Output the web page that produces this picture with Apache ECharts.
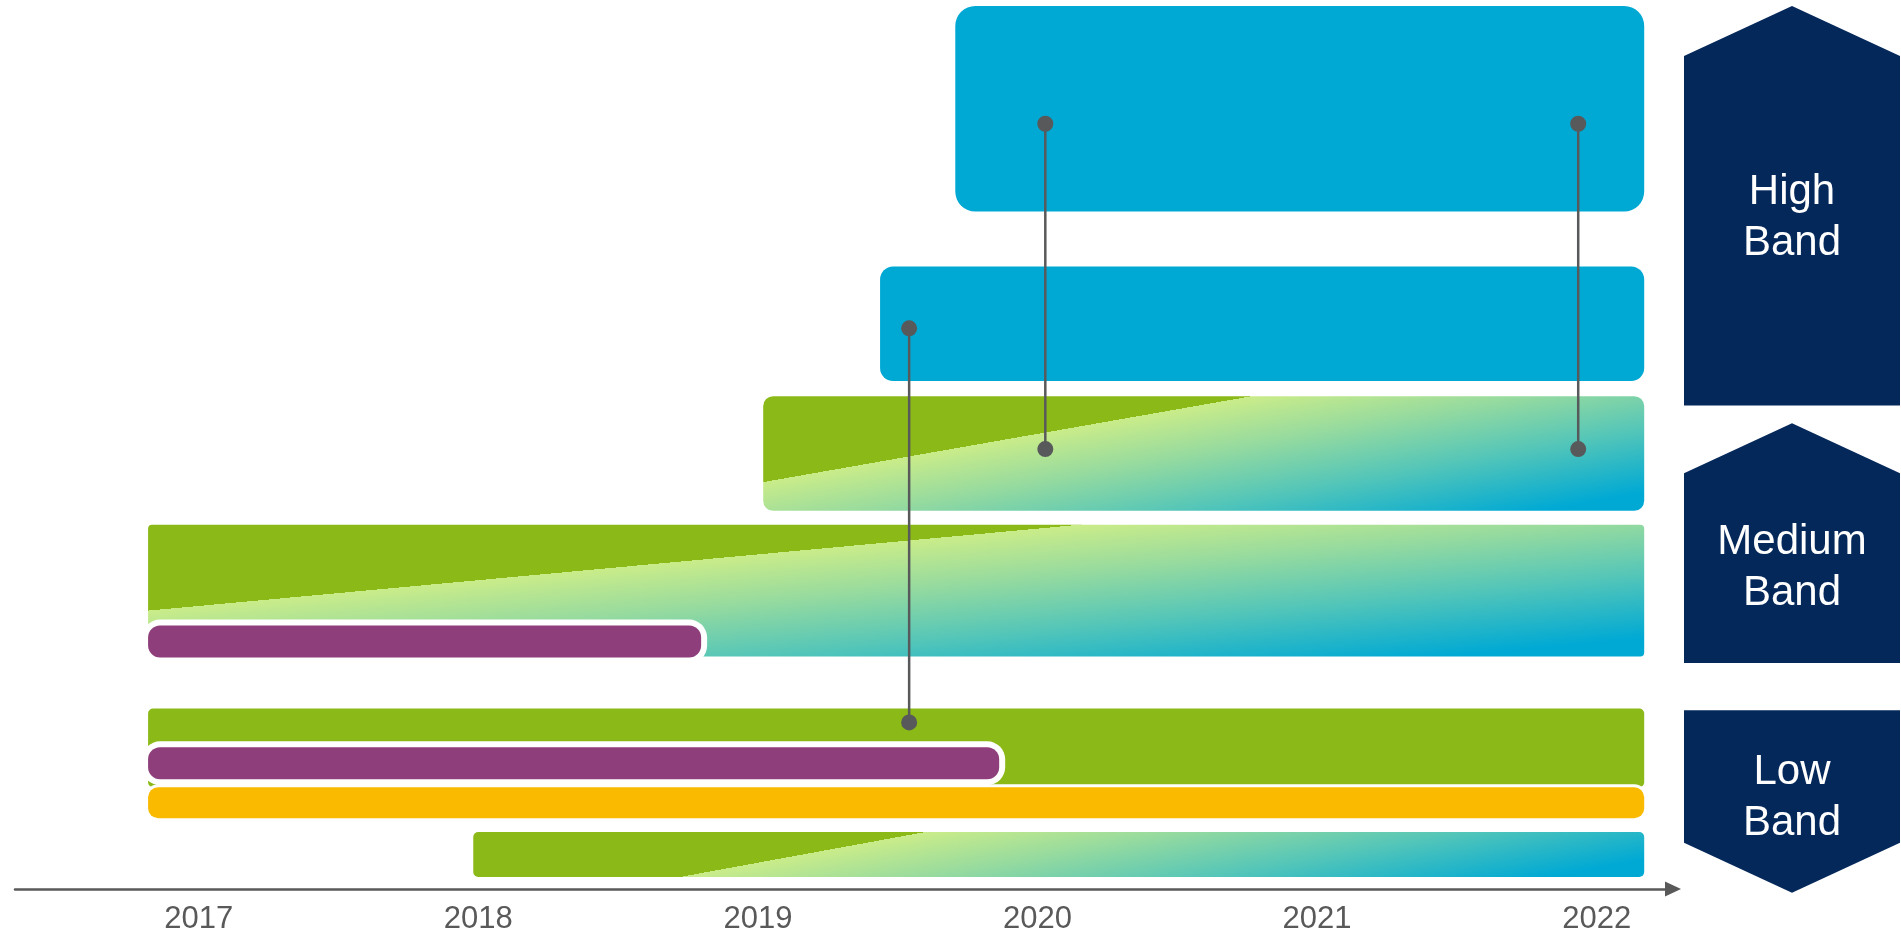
<!DOCTYPE html>
<html>
<head>
<meta charset="utf-8">
<script src="https://cdn.jsdelivr.net/npm/echarts@6/dist/echarts.min.js"></script>
<style>html,body{margin:0;padding:0;background:#fff}#c{width:1901px;height:935px}</style>
</head>
<body>
<div id="c"></div>
<script>
// ---------- data ----------
const years = [2017, 2018, 2019, 2020, 2021, 2022];
// blue bars: [start, end, bottom, top]
const highBars = [
  [2019.706, 2022.17, 76.2, 99.33],
  [2019.437, 2022.17, 57.13, 70.03]
];
// green->blue transition bars: [start, end, bottom, top, fadeAtBottom, fadeAtTop]
const fadeBars = [
  [2019.019, 2022.17, 42.54, 55.44, 2018.435, 2020.767],
  [2016.819, 2022.17, 26.15, 40.97, 2015.038, 2020.149],
  [2017.982, 2022.17, 1.35, 6.40, 2018.721, 2019.597]
];
const lowGreen = [[2016.819, 2022.17, 11.45, 20.31]];
const purpleBars = [
  [2016.819, 2018.797, 26.04, 29.63],
  [2016.819, 2019.863, 12.35, 15.94]
];
const yellowBars = [[2016.819, 2022.17, 7.97, 11.45]];
// milestones: [year, lowerDot, upperDot]
const milestones = [
  [2019.541, 18.74, 63.07],
  [2020.028, 49.49, 86.08],
  [2021.934, 49.49, 86.08]
];
const bandNames = ['High\nBand', 'Medium\nBand', 'Low\nBand'];
const bandRanges = [[54.5, 99.33], [25.6, 52.5], [-0.2, 20.3]];
const bandArrow = ['up', 'up', 'down'];
const bandTextY = [75.5, 36.3, 10.5];

// ---------- styles ----------
const GREEN = '#8BB917', BLUE = '#00A9D4', PURPLE = '#8E3E7B', YELLOW = '#FABA00', NAVY = '#05285B', DOT = '#58595B';
const highRadius = [20, 13];
const fadeRadius = [10, 4, 5];

function rectOf(api, s, e, lo, hi) {
  const p0 = api.coord([s, hi]);
  const p1 = api.coord([e, lo]);
  return { x: p0[0], y: p0[1], width: p1[0] - p0[0], height: p1[1] - p0[1] };
}
function fadeFill(r, xb, xt) {
  const x0 = r.x, y0 = r.y, x1 = r.x + r.width, y1 = r.y + r.height;
  const dx = xt - xb, dy = y1 - y0;
  const L = Math.hypot(dx, dy);
  const nx = dy / L, ny = dx / L;
  const proj = (px, py) => (px - xt) * nx + (py - y0) * ny;
  const a = Math.min(proj(x0, y0), -0.001), b = proj(x1, y1);
  const t = -a / (b - a);
  return {
    type: 'linear', global: true,
    x: xt + nx * a, y: y0 + ny * a, x2: xt + nx * b, y2: y0 + ny * b,
    colorStops: [
      { offset: 0, color: GREEN }, { offset: t, color: GREEN },
      { offset: t, color: '#CAEC89' },
      { offset: t + (1 - t) * 0.25, color: '#98DB9E' },
      { offset: t + (1 - t) * 0.55, color: '#55C6B8' },
      { offset: t + (1 - t) * 0.9, color: BLUE },
      { offset: 1, color: BLUE }
    ]
  };
}

const chart = echarts.init(document.getElementById('c'), null, { renderer: 'canvas' });
const option = {
  animation: false,
  backgroundColor: '#fff',
  grid: [
    { left: 15, right: 228, top: 0, bottom: 44 },
    { left: 1684, right: 1, top: 0, bottom: 44 }
  ],
  xAxis: [
    {
      type: 'value', gridIndex: 0, min: 2016.343, max: 2022.273,
      axisLine: { show: true, lineStyle: { color: '#595959', width: 2.5 }, symbol: ['none', 'triangle'], symbolSize: [15, 16] },
      axisTick: { show: false },
      splitLine: { show: false },
      axisLabel: {
        customValues: years, formatter: v => String(v),
        color: '#595959', fontSize: 31, lineHeight: 31, margin: 15, fontFamily: 'Liberation Sans, Arial, sans-serif'
      }
    },
    { type: 'value', gridIndex: 1, min: 0, max: 1, show: false }
  ],
  yAxis: [
    { type: 'value', gridIndex: 0, min: 0, max: 100, show: false },
    { type: 'value', gridIndex: 1, min: 0, max: 100, show: false }
  ],
  series: [
    {
      type: 'custom', xAxisIndex: 0, yAxisIndex: 0, z: 2, data: highBars,
      renderItem: (params, api) => {
        const r = rectOf(api, api.value(0), api.value(1), api.value(2), api.value(3));
        return { type: 'rect', shape: Object.assign(r, { r: highRadius[params.dataIndex] }), style: { fill: BLUE } };
      }
    },
    {
      type: 'custom', xAxisIndex: 0, yAxisIndex: 0, z: 2, data: fadeBars,
      renderItem: (params, api) => {
        const r = rectOf(api, api.value(0), api.value(1), api.value(2), api.value(3));
        const xb = api.coord([api.value(4), 0])[0];
        const xt = api.coord([api.value(5), 0])[0];
        return { type: 'rect', shape: Object.assign({}, r, { r: fadeRadius[params.dataIndex] }), style: { fill: fadeFill(r, xb, xt) } };
      }
    },
    {
      type: 'custom', xAxisIndex: 0, yAxisIndex: 0, z: 3, data: lowGreen,
      renderItem: (params, api) => {
        const r = rectOf(api, api.value(0), api.value(1), api.value(2), api.value(3));
        return { type: 'rect', shape: Object.assign(r, { r: 5 }), style: { fill: GREEN } };
      }
    },
    {
      type: 'custom', xAxisIndex: 0, yAxisIndex: 0, z: 4, data: purpleBars,
      renderItem: (params, api) => {
        const r = rectOf(api, api.value(0), api.value(1), api.value(2), api.value(3));
        const b = 6;
        return {
          type: 'group', children: [
            { type: 'rect', shape: { x: r.x - b, y: r.y - b, width: r.width + 2 * b, height: r.height + 2 * b, r: 12 + b }, style: { fill: '#fff' } },
            { type: 'rect', shape: Object.assign(r, { r: 12 }), style: { fill: PURPLE } }
          ]
        };
      }
    },
    {
      type: 'custom', xAxisIndex: 0, yAxisIndex: 0, z: 5, data: yellowBars,
      renderItem: (params, api) => {
        const r = rectOf(api, api.value(0), api.value(1), api.value(2), api.value(3));
        const b = 3;
        return {
          type: 'group', children: [
            { type: 'rect', shape: { x: r.x - b, y: r.y - b, width: r.width + 2 * b, height: r.height + 2 * b, r: 10 + b }, style: { fill: '#fff' } },
            { type: 'rect', shape: Object.assign(r, { r: 10 }), style: { fill: YELLOW } }
          ]
        };
      }
    },
    {
      type: 'custom', xAxisIndex: 0, yAxisIndex: 0, z: 10, data: milestones,
      renderItem: (params, api) => {
        const p1 = api.coord([api.value(0), api.value(1)]);
        const p2 = api.coord([api.value(0), api.value(2)]);
        return {
          type: 'group', children: [
            { type: 'line', shape: { x1: p1[0], y1: p1[1], x2: p2[0], y2: p2[1] }, style: { stroke: DOT, lineWidth: 2.5 } },
            { type: 'circle', shape: { cx: p1[0], cy: p1[1], r: 8 }, style: { fill: DOT } },
            { type: 'circle', shape: { cx: p2[0], cy: p2[1], r: 8 }, style: { fill: DOT } }
          ]
        };
      }
    },
    {
      type: 'custom', xAxisIndex: 1, yAxisIndex: 1, z: 2,
      data: bandRanges.map((r, i) => [0, r[0], r[1], bandTextY[i]]),
      renderItem: (params, api) => {
        const i = params.dataIndex;
        const pb = api.coord([0, api.value(1)]);
        const pt = api.coord([1, api.value(2)]);
        const xl = pb[0], xr = pt[0], xm = (xl + xr) / 2, yt = pt[1], yb = pb[1];
        const tip = 50;
        const pts = bandArrow[i] === 'up'
          ? [[xl, yt + tip], [xm, yt], [xr, yt + tip], [xr, yb], [xl, yb]]
          : [[xl, yt], [xr, yt], [xr, yb - tip], [xm, yb], [xl, yb - tip]];
        const ty = api.coord([0, api.value(3)])[1];
        return {
          type: 'group', children: [
            { type: 'polygon', shape: { points: pts }, style: { fill: NAVY } },
            { type: 'text', x: xm, y: ty, style: { text: bandNames[i], fill: '#fff', fontSize: 42, lineHeight: 51, fontFamily: 'Liberation Sans, Arial, sans-serif', align: 'center', verticalAlign: 'middle' } }
          ]
        };
      }
    }
  ]
};
chart.setOption(option);
</script>
</body>
</html>
